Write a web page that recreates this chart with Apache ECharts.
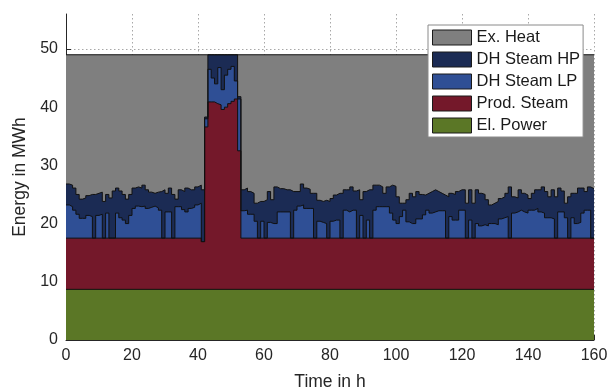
<!DOCTYPE html>
<html>
<head>
<meta charset="utf-8">
<title>Energy in MWh</title>
<script src="https://cdn.jsdelivr.net/npm/echarts@6/dist/echarts.min.js"></script>
<style>
  html, body { margin: 0; padding: 0; background: #fff; }
  #chart { width: 608px; height: 390px; }
</style>
</head>
<body>
<div id="chart"></div>
<script>
// hour axis, 0..160
const hours = Array.from({ length: 161 }, (_, i) => i)

// series are given as their upper edge in the stacked plot (MWh)
const exHeatHours = [0, 160]
const exHeat = [49, 49]

const dhSteamHp = [
  26.8, 26.6, 26.1, 25.0, 24.2, 24.4, 24.8, 25.0, 25.0, 25.2,
  25.4, 23.8, 25.0, 24.4, 25.6, 26.1, 25.6, 25.0, 24.2, 25.0,
  26.1, 26.3, 26.1, 26.6, 25.8, 25.4, 25.2, 25.4, 25.5, 25.8,
  25.2, 26.1, 25.0, 24.2, 25.8, 25.5, 26.1, 25.8, 25.8, 26.3,
  26.6, 25.8, 38.3, 49, 49, 49, 49, 49, 49, 49,
  49, 49, 41.8, 25.8, 26.1, 25.5, 25.2, 23.5, 23.8, 23.8,
  24.1, 25.5, 24.1, 26.3, 26.0, 26.0, 25.8, 25.8, 25.5, 25.5,
  25.5, 26.8, 26.1, 25.9, 25.2, 25.2, 24.0, 23.8, 24.0, 23.8,
  24.3, 24.9, 25.2, 25.2, 25.8, 25.8, 26.3, 25.6, 25.8, 24.1,
  25.5, 25.8, 25.8, 26.6, 26.6, 26.3, 25.2, 26.3, 26.6, 26.4,
  24.6, 23.5, 23.5, 24.1, 25.2, 24.6, 25.5, 25.0, 24.9, 25.2,
  25.5, 25.8, 25.5, 25.2, 24.9, 24.6, 25.2, 25.0, 25.5, 25.8,
  25.8, 23.5, 25.8, 23.5, 25.8, 25.2, 25.0, 24.1, 23.2, 23.5,
  23.8, 24.3, 24.6, 25.2, 26.3, 24.6, 24.4, 25.8, 25.2, 24.9,
  24.3, 25.2, 25.8, 25.8, 26.3, 25.5, 24.6, 25.8, 24.6, 26.1,
  25.6, 23.5, 24.6, 25.2, 25.2, 26.1, 26.1, 25.5, 26.3, 26.0,
  26.0
]

const dhSteamLp = [
  23.2, 22.9, 22.3, 21.6, 20.9, 20.9, 21.4, 21.2, 17.5, 21.4,
  21.6, 17.5, 21.8, 17.5, 17.5, 21.8, 21.0, 20.6, 20.0, 21.4,
  22.6, 23.0, 22.9, 23.0, 22.6, 22.8, 23.0, 22.7, 22.3, 17.5,
  22.0, 22.0, 17.5, 22.9, 22.9, 22.4, 22.0, 22.6, 22.8, 23.2,
  23.5, 16.9, 38.0, 46.5, 45.0, 44.0, 46.8, 43.0, 45.5, 46.5,
  47.0, 44.5, 41.4, 22.2, 22.3, 21.6, 21.6, 20.4, 17.5, 20.4,
  17.5, 20.2, 20.0, 20.0, 22.0, 22.0, 22.0, 22.0, 17.5, 22.3,
  23.0, 23.2, 22.6, 22.6, 22.6, 17.5, 20.4, 20.2, 20.0, 17.5,
  20.4, 20.6, 20.6, 17.5, 22.3, 22.0, 22.3, 22.3, 17.5, 21.4,
  17.5, 20.6, 17.5, 22.3, 22.9, 22.9, 22.9, 22.9, 21.8, 20.6,
  20.0, 21.2, 22.3, 20.3, 20.0, 20.0, 20.8, 20.8, 21.5, 22.3,
  21.8, 22.0, 22.2, 22.2, 22.2, 17.5, 21.2, 20.6, 20.6, 22.3,
  22.3, 17.5, 20.6, 17.5, 20.0, 19.6, 19.8, 19.6, 20.0, 20.0,
  19.8, 20.8, 21.0, 21.2, 17.5, 21.8, 22.0, 22.3, 22.0, 21.8,
  22.3, 22.3, 22.6, 22.0, 21.8, 21.0, 21.0, 20.8, 17.5, 22.0,
  22.0, 21.0, 17.5, 21.0, 20.0, 20.2, 21.8, 22.3, 22.3, 17.5,
  17.5
]

const prodSteamHours = [0, 41, 42, 43, 44, 45, 46, 47, 48, 49, 50, 51, 52, 53, 160]
const prodSteam = [17.5, 16.9, 36.6, 40.9, 40.9, 40.6, 40.4, 39.6, 40.0, 40.6, 41.0, 41.4, 32.5, 17.5, 17.5]

const elPowerHours = [0, 160]
const elPower = [8.7, 8.7]

const xTicks = [0, 20, 40, 60, 80, 100, 120, 140, 160]
const yTicks = [0, 10, 20, 30, 40, 50]

const fontFamily = '"Liberation Sans", Arial, Helvetica, sans-serif'
const edgeColor = '#111111'
const axisColor = '#262626'

function pairs (xs, ys) {
  return xs.map((x, i) => [x, ys[i]])
}

function stepArea (name, color, data) {
  return {
    name: name,
    type: 'line',
    step: 'end',
    symbol: 'none',
    silent: true,
    itemStyle: { color: color },
    lineStyle: { color: edgeColor, width: 1 },
    areaStyle: { color: color, opacity: 1, origin: 'start' },
    data: data
  }
}

const option = {
  animation: false,
  textStyle: { fontFamily: fontFamily },
  grid: { left: 66, right: 14, top: 14, bottom: 50, containLabel: false, outerBoundsMode: 'none' },
  legend: {
    orient: 'vertical',
    left: 428,
    top: 25,
    icon: 'rect',
    itemWidth: 39,
    itemHeight: 15,
    itemGap: 5,
    padding: [4, 3, 3, 4],
    backgroundColor: '#ffffff',
    borderColor: '#8a8a8a',
    borderWidth: 1,
    borderRadius: 0,
    itemStyle: { borderColor: '#1a1a1a', borderWidth: 1 },
    textStyle: { fontSize: 16.5, color: '#1a1a1a', fontFamily: fontFamily },
    selectedMode: false
  },
  xAxis: {
    type: 'value',
    min: xTicks[0],
    max: xTicks[xTicks.length - 1],
    interval: xTicks[1] - xTicks[0],
    name: 'Time in h',
    nameLocation: 'middle',
    nameGap: 33,
    nameTextStyle: { fontSize: 17.5, color: axisColor },
    axisLine: { show: true, lineStyle: { color: axisColor, width: 1 } },
    axisTick: { show: true, inside: true, length: 5, lineStyle: { color: axisColor } },
    axisLabel: { fontSize: 16, color: axisColor, margin: 8 },
    splitLine: { show: true, lineStyle: { color: '#a8a8a8', width: 1, type: [1.5, 2.5] } }
  },
  yAxis: {
    type: 'value',
    min: yTicks[0],
    max: 56,
    interval: yTicks[1] - yTicks[0],
    name: 'Energy in MWh',
    nameLocation: 'middle',
    nameGap: 36,
    nameTextStyle: { fontSize: 17.5, color: axisColor },
    axisLine: { show: true, lineStyle: { color: axisColor, width: 1 } },
    axisTick: { show: true, inside: true, length: 5, lineStyle: { color: axisColor } },
    axisLabel: { fontSize: 16, color: axisColor, margin: 8, showMaxLabel: false },
    splitLine: { show: true, showMaxLine: false, lineStyle: { color: '#a8a8a8', width: 1, type: [1.5, 2.5] } }
  },
  series: [
    stepArea('Ex. Heat', '#7f7f7f', pairs(exHeatHours, exHeat)),
    stepArea('DH Steam HP', '#1b2b54', pairs(hours, dhSteamHp)),
    stepArea('DH Steam LP', '#2f4f95', pairs(hours, dhSteamLp)),
    stepArea('Prod. Steam', '#74182a', pairs(prodSteamHours, prodSteam)),
    stepArea('El. Power', '#5b7726', pairs(elPowerHours, elPower))
  ]
}

const chart = echarts.init(document.getElementById('chart'), null, { renderer: 'canvas' })
chart.setOption(option)
</script>
</body>
</html>
